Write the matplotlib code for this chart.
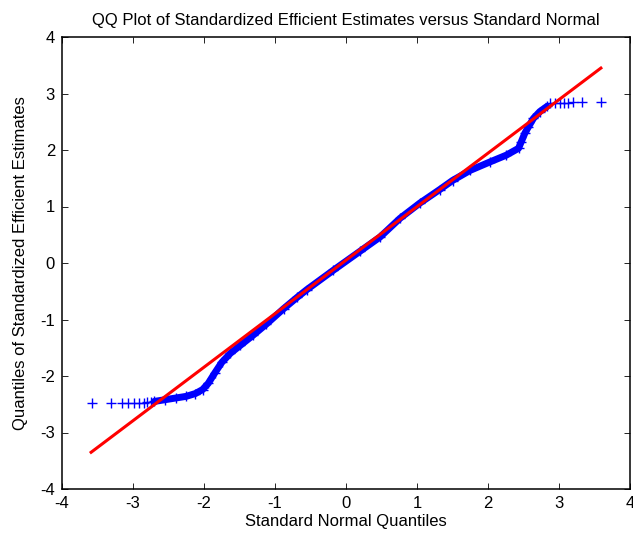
import matplotlib.pyplot as plt
import numpy as np

plt.rcParams["font.family"] = ["Liberation Sans", "DejaVu Sans"]
plt.rcParams["axes.unicode_minus"] = False

# sparse tail points (standard normal quantile, sample quantile)
left_tail_x = [-3.58, -3.31, -3.16, -3.07, -2.99, -2.92, -2.85, -2.80, -2.75]
left_tail_y = [-2.48, -2.48, -2.48, -2.47, -2.47, -2.47, -2.47, -2.46, -2.46]
right_tail_x = [2.88, 2.94, 3.01, 3.07, 3.13, 3.20, 3.32, 3.59]
right_tail_y = [2.83, 2.84, 2.84, 2.84, 2.84, 2.85, 2.85, 2.85]

# dense band of points, read along its centre
band_x = [-2.70, -2.55, -2.40, -2.25, -2.12, -2.02, -1.94, -1.85, -1.75,
          -1.63, -1.49, -1.31, -1.12, -0.88, -0.69, -0.55, -0.18, 0.20,
          0.48, 0.76, 1.04, 1.32, 1.50, 1.75, 2.03, 2.26, 2.43, 2.47,
          2.52, 2.57, 2.64, 2.73, 2.83]
band_y = [-2.45, -2.42, -2.39, -2.36, -2.31, -2.24, -2.13, -1.95, -1.76,
          -1.60, -1.46, -1.28, -1.08, -0.81, -0.61, -0.47, -0.13, 0.21,
          0.46, 0.79, 1.06, 1.30, 1.46, 1.64, 1.79, 1.91, 2.03, 2.15,
          2.30, 2.41, 2.56, 2.68, 2.77]

# reference line end points
ref_x = [-3.59, 3.59]
ref_y = [-3.35, 3.45]

fig = plt.figure(figsize=(6.33, 5.34), dpi=100)
ax = fig.add_axes([62 / 633, 45 / 534, 568 / 633, 452 / 534])

blue = "#0000ff"
ax.plot(band_x, band_y, color=blue, lw=5.0, solid_joinstyle="round",
        solid_capstyle="round")
ax.plot(band_x, band_y, ls="none", marker="+", ms=7.5, mew=1.0, color=blue)
ax.plot(left_tail_x + right_tail_x, left_tail_y + right_tail_y, ls="none",
        marker="+", ms=7.5, mew=1.0, color=blue)
ax.plot(ref_x, ref_y, color="#ff0000", lw=2.2)

ax.set_xlim(-4, 4)
ax.set_ylim(-4, 4)
ax.set_xticks(np.arange(-4, 5, 1))
ax.set_yticks(np.arange(-4, 5, 1))
ax.tick_params(direction="in", length=4, width=0.6, top=True, right=True,
               labelsize=12, pad=5)
for s in ax.spines.values():
    s.set_linewidth(1.1)

ax.set_title("QQ Plot of Standardized Efficient Estimates versus Standard Normal",
             fontsize=12, pad=9)
ax.set_xlabel("Standard Normal Quantiles", fontsize=12, labelpad=2)
ax.set_ylabel("Quantiles of Standardized Efficient Estimates", fontsize=12,
              labelpad=9)

fig.savefig("out.png", dpi=100)
